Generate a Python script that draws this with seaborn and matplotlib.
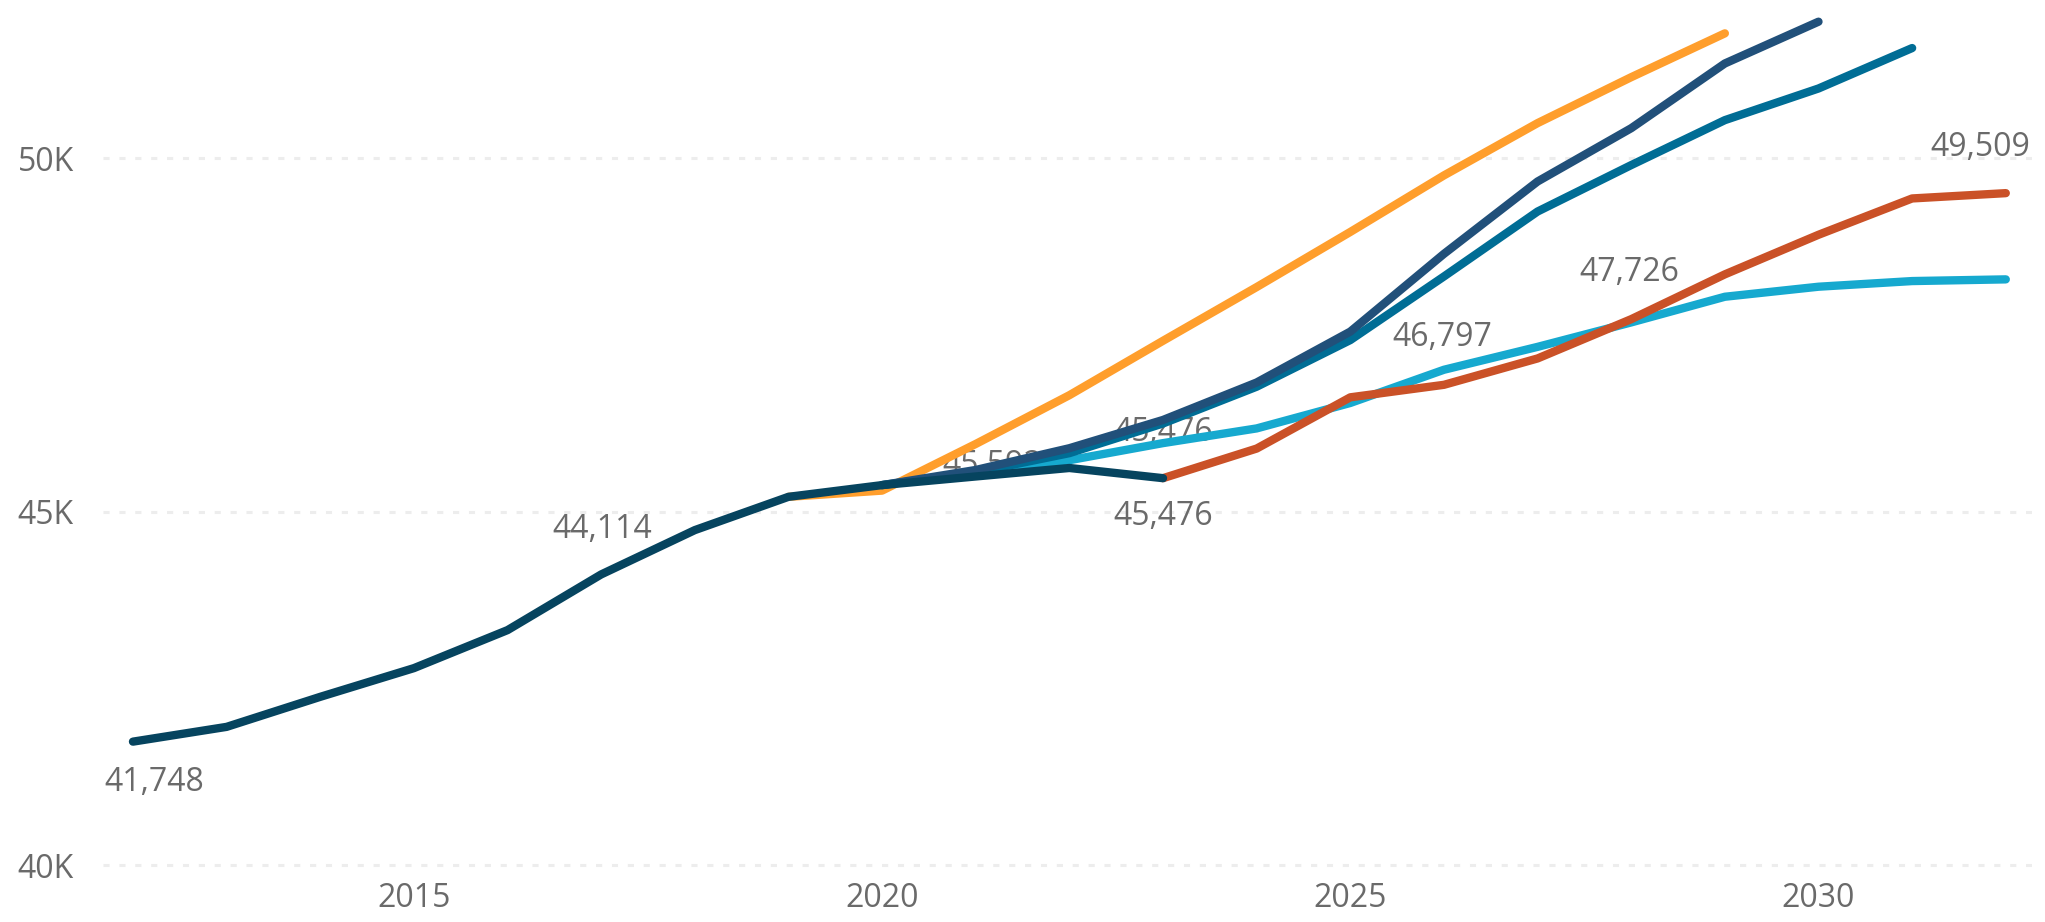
import matplotlib
matplotlib.use("Agg")
import matplotlib.pyplot as plt
import seaborn as sns
import pandas as pd
from matplotlib.ticker import FixedLocator, FuncFormatter

# ---------------- data ----------------
hist_years = list(range(2012, 2024))
hist_vals = [41748, 41957, 42382, 42788, 43326, 44114, 44741, 45212, 45378, 45500, 45620, 45476]

orange_years = list(range(2019, 2030))
orange_vals = [45212, 45300, 45960, 46650, 47420, 48180, 48960, 49760, 50500, 51150, 51770]

darkblue_years = list(range(2020, 2031))
darkblue_vals = [45378, 45592, 45900, 46300, 46830, 47550, 48650, 49674, 50428, 51344, 51935]

teal_years = list(range(2020, 2032))
teal_vals = [45378, 45560, 45830, 46250, 46770, 47430, 48330, 49249, 49906, 50542, 50990, 51562]

red_years = list(range(2023, 2033))
red_vals = [45476, 45895, 46620, 46797, 47170, 47726, 48360, 48920, 49434, 49509]

cyan_years = list(range(2021, 2033))
cyan_vals = [45560, 45730, 45972, 46180, 46540, 47010, 47334, 47680, 48043, 48185, 48265, 48289]

series_names = ["High", "Low", "Scenario C", "Scenario B", "Scenario A", "Historical"]
y_ticks = [40000, 45000, 50000]
x_ticks = [2015, 2020, 2025, 2030]

# labelled points: (series, year)
label_points = [
    ("Historical", 2012), ("Historical", 2017), ("Scenario B", 2021),
    ("Historical", 2023), ("Scenario A", 2023), ("Scenario A", 2026),
    ("Scenario A", 2028), ("Scenario A", 2032),
]

# ---------------- styling ----------------
colors = {
    "High": "#FF9E2C",
    "Low": "#16A9CF",
    "Scenario C": "#006D95",
    "Scenario B": "#21507A",
    "Scenario A": "#CA5127",
    "Historical": "#06445F",
}
label_offsets_px = [(21, -41), (1, 45), (17, 4), (0, 46), (0, -38), (-2, 47), (-2, 47), (-25, 46)]

frames = []
for name, yrs, vals in [
    ("High", orange_years, orange_vals),
    ("Low", cyan_years, cyan_vals),
    ("Scenario C", teal_years, teal_vals),
    ("Scenario B", darkblue_years, darkblue_vals),
    ("Scenario A", red_years, red_vals),
    ("Historical", hist_years, hist_vals),
]:
    frames.append(pd.DataFrame({"year": yrs, "value": vals, "series": name}))
df = pd.concat(frames, ignore_index=True)

sns.set_theme(style="white")
plt.rcParams["font.family"] = ["Open Sans", "DejaVu Sans"]

W, H = 2045, 922
fig = plt.figure(figsize=(W / 100, H / 100), dpi=100)
ax = fig.add_axes([103 / W, 54 / H, (2032 - 103) / W, 868 / H])

sns.lineplot(data=df, x="year", y="value", hue="series", hue_order=series_names,
             palette=colors, linewidth=6.0, legend=False, ax=ax,
             estimator=None, sort=False, zorder=3)

ax.set_xlim(2011.68, 2032.28)
ax.set_ylim(39960, 52242)

ax.yaxis.set_major_locator(FixedLocator(y_ticks))
ax.yaxis.set_major_formatter(FuncFormatter(lambda v, p: f"{int(round(v / 1000))}K"))
ax.xaxis.set_major_locator(FixedLocator(x_ticks))
ax.xaxis.set_major_formatter(FuncFormatter(lambda v, p: f"{int(v)}"))

ax.yaxis.grid(True, color="#EDEDED", linewidth=2.2, linestyle=(0, (2.0, 3.2)), zorder=0)
ax.xaxis.grid(False)
for s in ax.spines.values():
    s.set_visible(False)
ax.tick_params(axis="both", length=0, labelsize=23, labelcolor="#6A6A6A")
ax.tick_params(axis="y", pad=21)
ax.tick_params(axis="x", pad=10)
ax.set_xlabel("")
ax.set_ylabel("")

lookup = {(r.series, r.year): r.value for r in df.itertuples()}
for (ser, yr), (dx, dy) in zip(label_points, label_offsets_px):
    v = lookup[(ser, yr)]
    ax.annotate(f"{v:,}", xy=(yr, v), xytext=(dx, dy), textcoords="offset pixels",
                ha="center", va="center", fontsize=23, color="#6A6A6A", zorder=1,
                annotation_clip=False)

fig.savefig("out.png", dpi=100)
